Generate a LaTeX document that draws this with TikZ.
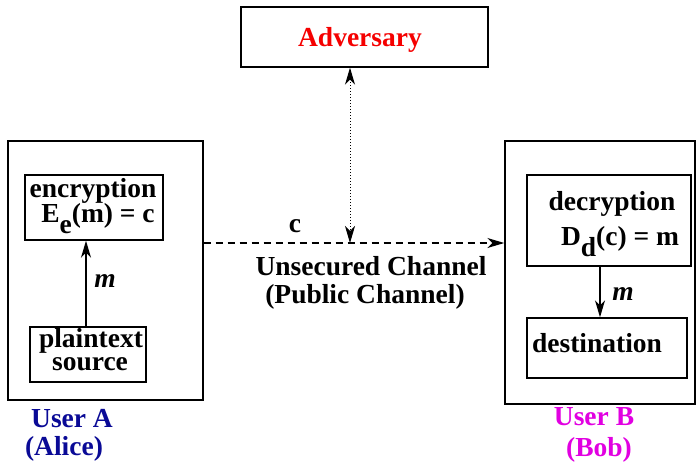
\documentclass[tikz,border=0pt]{standalone}
\usepackage{fontspec}
\setmainfont{Liberation Serif}
\usetikzlibrary{arrows.meta}
\definecolor{usera}{RGB}{10,10,150}
\definecolor{userb}{RGB}{225,0,225}
\definecolor{adv}{RGB}{245,0,0}
\begin{document}
\begin{tikzpicture}[x=1pt,y=-1pt,
  box/.style={draw, line width=1.4pt, inner sep=0pt},
  txt/.style={anchor=base, inner sep=0pt, font=\fontsize{27.5}{30}\selectfont\bfseries},
  lbl/.style={anchor=base, inner sep=0pt, font=\fontsize{27.5}{30}\selectfont\bfseries\itshape},
  tip/.tip={Stealth[length=17pt,width=10pt,inset=5pt]},
  arr/.style={line width=1.4pt, -tip}]
\useasboundingbox (0,0) rectangle (696,464);
% boxes
\node[box, minimum width=195pt, minimum height=259pt] (boxA) at (105.5,270.5) {};
\node[box, minimum width=190pt, minimum height=263pt] (boxB) at (600,272.5) {};
\node[box, minimum width=138pt, minimum height=65pt] (enc) at (94,207.5) {};
\node[box, minimum width=116pt, minimum height=55pt] (src) at (88,354.5) {};
\node[box, minimum width=164pt, minimum height=91pt] (dec) at (609,220.5) {};
\node[box, minimum width=160pt, minimum height=60pt] (dst) at (607,348) {};
\node[box, minimum width=247pt, minimum height=60pt] (advbox) at (364.5,37) {};
% texts
\node[txt] (tenc) at (93,197) {encryption};
\node[txt] (teq) at (98,222) {E\raisebox{-0.42em}{e}(m) = c};
\node[txt] (tpl) at (91,347) {plaintext};
\node[txt] (tso) at (90,370) {source};
\node[lbl] (m1) at (105,287) {m};
\node[txt, text=usera] (ua) at (72,427) {User A};
\node[txt, text=usera] (ual) at (64,455) {(Alice)};
\node[txt] (tdec) at (612,210) {decryption};
\node[txt] (tdeq) at (620,245) {D\raisebox{-0.42em}{d}(c) = m};
\node[lbl] (m2) at (623,300) {m};
\node[txt] (tdst) at (597,352) {destination};
\node[txt, text=userb] (ub) at (594,425) {User B};
\node[txt, text=userb] (ubb) at (599,456) {(Bob)};
\node[txt, text=adv] (tadv) at (360,46) {Adversary};
\node[txt] (tc) at (295,232) {c};
\node[txt] (tun) at (371,275) {Unsecured Channel};
\node[txt] (tpu) at (365,303) {(Public Channel)};
% connectors
\coordinate (chan) at (350,243);
\draw[arr] (src.north -| 86,0) -- (enc.south -| 86,0);
\draw[arr] (dec.south -| 600,0) -- (dst.north -| 600,0);
\draw[arr, dash pattern=on 7pt off 5pt] (boxA.east |- chan) -- (boxB.west |- chan);
\draw[line width=1pt, dotted, tip-tip] (advbox.south -| chan) -- (chan);
\end{tikzpicture}
\end{document}
